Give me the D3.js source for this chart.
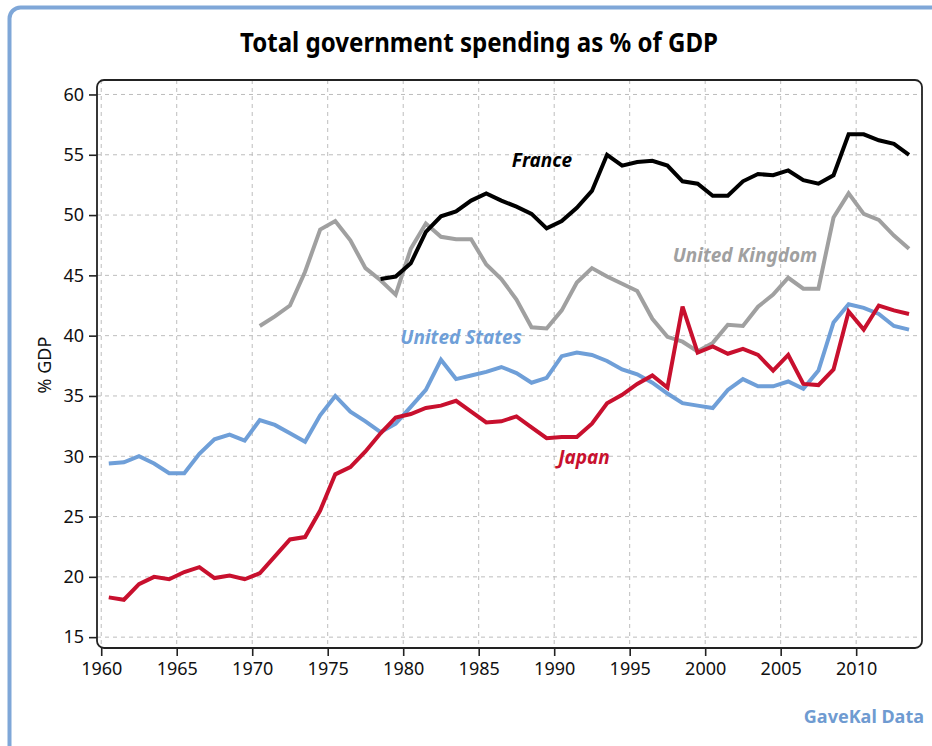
<!DOCTYPE html>
<html>
<head>
<meta charset="utf-8">
<script src="https://cdn.jsdelivr.net/npm/d3@7"></script>
<style>
  html, body { margin: 0; padding: 0; background: #fff; }
  svg { display: block; }
</style>
</head>
<body>
<svg id="chart" width="932" height="746"></svg>
<script>
// Total government spending as % of GDP, 1960-2013
const years = d3.range(1960, 2014);

const unitedStates = [
  29.4, 29.5, 30.0, 29.4, 28.6, 28.6, 30.2, 31.4, 31.8, 31.3,
  33.0, 32.6, 31.9, 31.2, 33.4, 35.0, 33.7, 32.9, 32.0, 32.7,
  34.1, 35.5, 38.0, 36.4, 36.7, 37.0, 37.4, 36.9, 36.1, 36.5,
  38.3, 38.6, 38.4, 37.9, 37.2, 36.8, 36.1, 35.2, 34.4, 34.2,
  34.0, 35.5, 36.4, 35.8, 35.8, 36.2, 35.6, 37.1, 41.1, 42.6,
  42.3, 41.8, 40.8, 40.5
];

const japan = [
  18.3, 18.1, 19.4, 20.0, 19.8, 20.4, 20.8, 19.9, 20.1, 19.8,
  20.3, 21.7, 23.1, 23.3, 25.5, 28.5, 29.1, 30.4, 31.9, 33.2,
  33.5, 34.0, 34.2, 34.6, 33.7, 32.8, 32.9, 33.3, 32.4, 31.5,
  31.6, 31.6, 32.7, 34.4, 35.1, 36.0, 36.7, 35.7, 42.4, 38.6,
  39.1, 38.5, 38.9, 38.4, 37.1, 38.4, 36.0, 35.9, 37.2, 42.0,
  40.5, 42.5, 42.1, 41.8
];

const unitedKingdom = [
  null, null, null, null, null, null, null, null, null, null,
  40.8, 41.6, 42.5, 45.3, 48.8, 49.5, 47.9, 45.6, 44.6, 43.4,
  47.2, 49.3, 48.2, 48.0, 48.0, 45.9, 44.7, 43.0, 40.7, 40.6,
  42.1, 44.4, 45.6, 44.9, 44.3, 43.7, 41.4, 39.9, 39.5, 38.7,
  39.4, 40.9, 40.8, 42.4, 43.4, 44.8, 43.9, 43.9, 49.8, 51.8,
  50.1, 49.6, 48.3, 47.2
];

const france = [
  null, null, null, null, null, null, null, null, null, null,
  null, null, null, null, null, null, null, null, 44.7, 44.9,
  46.0, 48.6, 49.9, 50.3, 51.2, 51.8, 51.2, 50.7, 50.1, 48.9,
  49.5, 50.6, 52.0, 55.0, 54.1, 54.4, 54.5, 54.1, 52.8, 52.6,
  51.6, 51.6, 52.8, 53.4, 53.3, 53.7, 52.9, 52.6, 53.3, 56.7,
  56.7, 56.2, 55.9, 55.0
];

const xTicks = [1960, 1965, 1970, 1975, 1980, 1985, 1990, 1995, 2000, 2005, 2010];
const yTicks = [15, 20, 25, 30, 35, 40, 45, 50, 55, 60];

const series = [
  { name: "United Kingdom", values: unitedKingdom, color: "#a0a0a0", label: [745, 255] },
  { name: "United States", values: unitedStates, color: "#6f9fd8", label: [461, 337] },
  { name: "Japan", values: japan, color: "#c8102e", label: [584, 457] },
  { name: "France", values: france, color: "#000000", label: [542, 160] }
];

const svg = d3.select("#chart");
const plot = { left: 97, right: 922, top: 80, bottom: 648 };

const sans = "'Noto Sans', 'Open Sans', sans-serif";

// outer frame (runs past the right and bottom edges)
svg.append("rect")
  .attr("x", 9.5).attr("y", 7.5)
  .attr("width", 960).attr("height", 760)
  .attr("rx", 11).attr("ry", 11)
  .attr("fill", "none")
  .attr("stroke", "#7fa7d8")
  .attr("stroke-width", 4);

// title
svg.append("text")
  .attr("x", 479).attr("y", 52)
  .attr("text-anchor", "middle")
  .attr("textLength", 478)
  .attr("lengthAdjust", "spacingAndGlyphs")
  .style("font-family", sans)
  .style("font-weight", "bold")
  .style("font-size", "26px")
  .attr("fill", "#000")
  .text("Total government spending as % of GDP");

// scales: each year's value sits at mid-year
const x = d3.scaleLinear().domain([1959.72, 2014.36]).range([plot.left, plot.right]);
const y = d3.scaleLinear().domain([14.1, 61.2]).range([plot.bottom, plot.top]);

// grid
const grid = svg.append("g")
  .attr("stroke", "#bdbdbd")
  .attr("stroke-width", 1)
  .attr("stroke-dasharray", "4,4");
grid.selectAll("line.h").data(yTicks).join("line")
  .attr("class", "h")
  .attr("x1", plot.left).attr("x2", plot.right)
  .attr("y1", d => y(d)).attr("y2", d => y(d));
grid.selectAll("line.v").data(xTicks).join("line")
  .attr("class", "v")
  .attr("y1", plot.top).attr("y2", plot.bottom)
  .attr("x1", d => x(d)).attr("x2", d => x(d));

// axes
const yAxis = svg.append("g")
  .attr("transform", `translate(${plot.left},0)`)
  .call(d3.axisLeft(y).tickValues(yTicks).tickSize(8).tickPadding(5));
const xAxis = svg.append("g")
  .attr("transform", `translate(0,${plot.bottom})`)
  .call(d3.axisBottom(x).tickValues(xTicks).tickFormat(d3.format("d")).tickSize(8).tickPadding(6));
[yAxis, xAxis].forEach(g => {
  g.select(".domain").remove();
  g.selectAll(".tick line").attr("stroke", "#222").attr("stroke-width", 1.6);
  g.selectAll(".tick text")
    .attr("fill", "#111")
    .style("font-family", sans)
    .style("font-size", "18px");
});

// plot border
svg.append("rect")
  .attr("x", plot.left).attr("y", plot.top)
  .attr("width", plot.right - plot.left).attr("height", plot.bottom - plot.top)
  .attr("rx", 7).attr("ry", 7)
  .attr("fill", "none")
  .attr("stroke", "#222")
  .attr("stroke-width", 1.8);

// y axis title
svg.append("text")
  .attr("transform", "translate(51,365) rotate(-90)")
  .attr("text-anchor", "middle")
  .style("font-family", sans)
  .style("font-size", "18px")
  .attr("fill", "#111")
  .text("% GDP");

// lines
const line = d3.line()
  .defined(d => d.v != null)
  .x(d => x(d.year + 0.5))
  .y(d => y(d.v));

series.forEach(s => {
  const pts = years.map((yr, i) => ({ year: yr, v: s.values[i] }));
  svg.append("path")
    .datum(pts)
    .attr("fill", "none")
    .attr("stroke", s.color)
    .attr("stroke-width", 4)
    .attr("stroke-linejoin", "miter")
    .attr("d", line);
});

// series labels
series.forEach(s => {
  svg.append("text")
    .attr("x", s.label[0]).attr("y", s.label[1])
    .attr("dy", "0.35em")
    .attr("text-anchor", "middle")
    .style("font-family", sans)
    .style("font-style", "italic")
    .style("font-weight", "bold")
    .style("font-size", "19px")
    .attr("fill", s.color)
    .text(s.name);
});

// source
svg.append("text")
  .attr("x", 924).attr("y", 723)
  .attr("text-anchor", "end")
  .style("font-family", sans)
  .style("font-weight", "bold")
  .style("font-size", "18px")
  .attr("fill", "#6f9bd1")
  .text("GaveKal Data");
</script>
</body>
</html>
